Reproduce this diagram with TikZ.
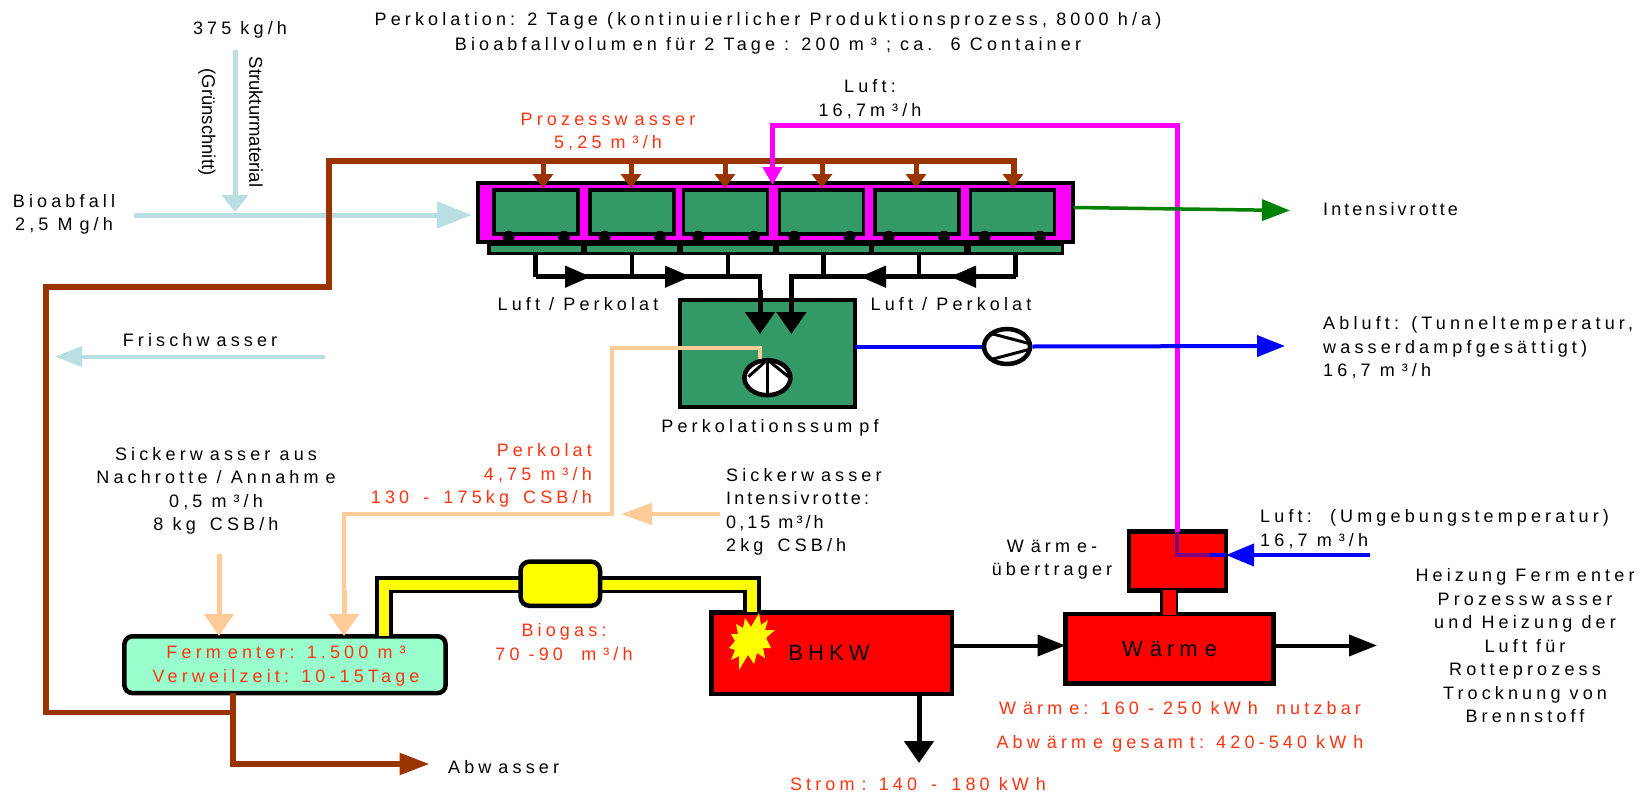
\documentclass[tikz,border=0pt]{standalone}
\usepackage{fontspec}
\usetikzlibrary{arrows.meta,calc,shapes.geometric}
\setmainfont[LetterSpace=23]{Liberation Sans}
\newfontfamily\plainfont{Liberation Sans}
\newfontfamily\tightfont[LetterSpace=17]{Liberation Sans}
\newcommand{\mk}{\kern7pt}
\newcommand{\wsp}{\kern5pt\ }
\definecolor{lblue}{HTML}{B9DFE3}
\definecolor{bro}{HTML}{993300}
\definecolor{mag}{HTML}{FF00FF}
\definecolor{grn}{HTML}{339966}
\definecolor{peach}{HTML}{FFCC99}
\definecolor{mint}{HTML}{99FFCC}
\definecolor{redtxt}{HTML}{FF3311}
\definecolor{purp}{HTML}{800080}
\definecolor{dgreen}{HTML}{008000}
\definecolor{yel}{HTML}{FFFF00}
\definecolor{rd}{HTML}{FF0000}
\tikzset{
 lbl/.style={inner sep=0pt,font=\fontsize{18}{23.5}\selectfont,align=center},
 lblL/.style={lbl,align=left,anchor=west},
 lblR/.style={lbl,align=right,anchor=east},
 rlbl/.style={lbl,text=redtxt},
 boxnode/.style={draw=black,line width=4.5pt,inner sep=0pt,outer sep=0pt,rectangle},
 car/.style={boxnode,line width=3.5pt,fill=grn,minimum width=84pt,minimum height=43.9pt},
 strip/.style={boxnode,line width=3.5pt,fill=grn,minimum height=9.2pt,minimum width=93.5pt},
 wheel/.style={circle,fill=black,minimum size=12pt,inner sep=0pt},
 pumpnode/.style={ellipse,draw=black,fill=white,line width=4.5pt,minimum width=46pt,minimum height=35pt,inner sep=0pt},
 tipS/.style={-{Triangle[length=28pt,width=21pt]}},
 tipB/.style={-{Triangle[length=22pt,width=29pt]}},
 tipL/.style={-{Triangle[length=35pt,width=26pt]}},
 tipV/.style={-{Triangle[length=17pt,width=26pt]}},
 tipBr/.style={-{Triangle[length=14pt,width=20pt]}},
 pipebro/.style={bro,line width=5.5pt,miter limit=10},
}
\begin{document}
\begin{tikzpicture}[x=1pt,y=-1pt]
\useasboundingbox (0,0) rectangle (1649,795);
% ---- nodes
\node[strip] (s1) at (535.5,248.7) {};
\node[strip] (s2) at (632,248.7) {};
\node[strip] (s3) at (728,248.7) {};
\node[strip] (s4) at (823.5,248.7) {};
\node[strip] (s5) at (919,248.7) {};
\node[strip] (s6) at (1015.5,248.7) {};
\node[boxnode,line width=4pt,fill=mag,minimum width=595.5pt,minimum height=59pt] (tunnel) at (775.7,212.5) {};
\foreach \n/\x in {c1/536,c2/632,c3/725.5,c4/821.5,c5/917,c6/1012.5}
  \node[car] (\n) at (\x,212) {};
\foreach \n/\x in {w1/508.6,w2/564,w3/604.6,w4/660,w5/698.4,w6/754,w7/794.4,w8/849.5,w9/888.7,w10/944,w11/984.6,w12/1040}
  \node[wheel] (\n) at (\x,236.7) {};
\node[boxnode,line width=4pt,fill=grn,minimum width=175.7pt,minimum height=107pt] (sump) at (767.6,353.5) {};
\node[boxnode,fill=mint,rounded corners=8pt,minimum width=321.2pt,minimum height=56.8pt] (ferm) at (285,664.7) {};
\node[boxnode,fill=rd,minimum width=240.5pt,minimum height=81.5pt] (bhkw) at (831.5,653) {};
\node[boxnode,fill=rd,minimum width=208pt,minimum height=69.5pt] (waerme) at (1169.5,648.7) {};
\node[boxnode,fill=rd,minimum width=97pt,minimum height=58.9pt] (wt) at (1177.5,561) {};
% ---- coordinates
\coordinate (brA) at (233,712.7);
\coordinate (brB) at (46,712.7);
\coordinate (brC) at (46,287);
\coordinate (brD) at (329,287);
\coordinate (brE) at (329,161);
\coordinate (brF) at (1014,161);
\coordinate (brG) at (233,764);
\coordinate (brH) at (429.5,764);
\coordinate (magA) at (1177,125.7);
\coordinate (magB) at (772.5,125.7);
\coordinate (magC) at (772.5,185);
\coordinate (magD) at (1177,555);
\coordinate (magE) at (1210,555);
\coordinate (luIn) at (1370,555);
\coordinate (bioS) at (134,215);
\coordinate (bioE) at (472,215);
\coordinate (strS) at (235,50);
\coordinate (strE) at (235,212);
\coordinate (friS) at (325,356.5);
\coordinate (friE) at (55,356.5);
\coordinate (intE) at (1290,210.5);
\coordinate (abE) at (1285,346);
\coordinate (perA) at (760,348);
\coordinate (perB) at (612,348);
\coordinate (perC) at (612,514);
\coordinate (perD) at (344,514);
\coordinate (perE) at (344,636);
\coordinate (sicS) at (219,554);
\coordinate (sicE) at (219,636);
\coordinate (intS) at (720,514);
\coordinate (intT) at (621,514);
\coordinate (gasA) at (384,584.5);
\coordinate (gasB) at (752,584.5);
% ---- solid flows
\draw[lblue,line width=5pt,tipL] (bioS) -- (bioE);
\draw[lblue,line width=5pt,tipV] (strS) -- (strE);
\draw[lblue,line width=4pt,-{Triangle[length=27pt,width=20pt]}] (friS) -- (friE);
% brown
\draw[pipebro] (brH) ++(-20,0) -- (brG) -- (ferm.south -| brG);
\draw[pipebro,-{Triangle[length=30pt,width=21pt]}] (brG) -- (brH);
\draw[pipebro] (brA) -- (brB) -- (brC) -- (brD) -- (brE) -- (brF) -- (1014,175);
\foreach \x in {543,631,725,822,916,1013}
  \draw[bro,line width=5pt,tipBr] (\x,161) -- (\x,188);
% magenta
\draw[mag,line width=5pt,-{Triangle[length=18pt,width=19pt]}] (wt.north -| magA) -- (magA) -- (magB) -- (magC);
\draw[purp,line width=4.5pt] (wt.north -| magA) -- (magD) -- (magE);
\draw[blue,line width=4pt,-{Triangle[length=28pt,width=22pt]}] (luIn) -- (wt.east |- luIn) ;
\draw[blue,line width=4pt] (wt.east |- luIn) -- (magE);
% green out
\draw[dgreen,line width=3.5pt,tipS] (tunnel.east |- 0,207.5) -- (intE);
% black bus
\foreach \n in {1,2,3} \draw[line width=4.5pt] (s\n.south) -- (s\n.south |- 0,276.7);
\foreach \n in {4,5,6} \draw[line width=4.5pt] (s\n.south) -- (s\n.south |- 0,276.7);
\draw[line width=4.5pt,miter limit=10] (s1.south |- 0,276.7) -- (760,276.7) -- (760,300);
\draw[line width=4.5pt,miter limit=10] (s6.south |- 0,276.7) -- (791.4,276.7) -- (791.4,300);
\draw[line width=5pt,-{Triangle[length=22pt,width=29pt]}] (760,290) -- (760,334);
\draw[line width=5pt,-{Triangle[length=22pt,width=29pt]}] (791.4,290) -- (791.4,334);
\foreach \a/\b in {555/591,656/691} \draw[line width=4.5pt,-{Triangle[length=26pt,width=21pt]}] (\a,276.7) -- (\b,276.7);
\foreach \a/\b in {895/860,985/950} \draw[line width=4.5pt,-{Triangle[length=26pt,width=21pt]}] (\a,276.7) -- (\b,276.7);
% blue with pump
\node[pumpnode] (pumpB) at (1007,346.5) {};
\draw[blue,line width=4pt] (sump.east |- pumpB) -- (pumpB.west);
\draw[blue,line width=4pt,tipS] (pumpB.east) -- (abE);
\draw[line width=3pt] ($(pumpB)+(-16,-13)$) -- ($(pumpB)+(22,-3)$);
\draw[line width=3pt] ($(pumpB)+(-16,13)$) -- ($(pumpB)+(22,3)$);
% inner pump
\node[pumpnode] (pumpS) at (767.4,377.7) {};
\draw[line width=3pt] ($(pumpS)+(-19,-1)$) -- ($(pumpS)+(0,-18)$) -- ($(pumpS)+(21,-1)$);
\draw[line width=3pt] ($(pumpS)+(0,-18)$) -- ($(pumpS)+(0,18)$);
% peach
\draw[peach,line width=4.5pt,miter limit=10] (760,359) -- (perA) -- (perB) -- (perC) -- (perD) -- (344,600);
\draw[peach,line width=5pt,-{Triangle[length=22pt,width=29pt]}] (344,590) -- (perE);
\draw[peach,line width=5pt,-{Triangle[length=22pt,width=29pt]}] (sicS) -- (sicE);
\draw[peach,line width=4.5pt,-{Triangle[length=31pt,width=21pt]}] (intS) -- (intT);
% biogas
\draw[line width=17.5pt,miter limit=10] (gasA |- ferm.north) -- (gasA) -- (gasB) -- (gasB |- bhkw.north);
\draw[yel,line width=10pt,miter limit=10] (gasA |- ferm.north) -- (gasA) -- (gasB) -- (gasB |- bhkw.north);
\node[boxnode,fill=yel,rounded corners=9pt,minimum width=79.5pt,minimum height=44.2pt] (tank) at (560.3,583.7) {};
% connector
\node[draw=black,fill=rd,line width=3.5pt,minimum width=15pt,minimum height=22pt,inner sep=0pt,outer sep=0pt] (link) at (1169,602) {};
\fill[rd] (1163,590) rectangle (1176,615);
% star
\fill[yel] (759,613)--(761,625)--(768,620)--(765,630)--(775,630)--(766,638)--(771,648)--(763,648)--(765,658)--(757,653)--(754,664)--(748,655)--(739,670)--(739,656)--(731,660)--(735,650)--(729,648)--(735,641)--(731,634)--(738,634)--(736,624)--(743,628)--(745,618)--(751,627)--cycle;
% heat and power
\coordinate (bw) at (0,645.5);
\draw[line width=4pt,tipS] (bhkw.east |- bw) -- (waerme.west |- bw);
\draw[line width=4pt,tipS] (waerme.east |- bw) -- (1377,645.5);
\draw[line width=5pt,tipB] (919,694) -- (919,763);
% ---- text
\node[lbl,font=\fontsize{18}{25.5}\selectfont] (t1) at (768,33.5) {Perkolation: 2 Tage (kontinuierlicher Produktionsprozess, 8000 h/a)\\Bioabfallvolum\mk en für 2 Tage : 200 m\mk ³ ; ca.\ \ 6 Container};
\node[lbl] (t2) at (240,30) {375 kg/h};
\node[inner sep=0pt,rotate=-90,font=\plainfont\fontsize{18.5}{20}\selectfont] (t3) at (256,122) {Strukturmaterial};
\node[inner sep=0pt,rotate=-90,font=\plainfont\fontsize{18.5}{20}\selectfont] (t4) at (207,122) {(Grünschnitt)};
\node[lbl] (t5) at (64,214.5) {Bioabfall\\2,5 M\mk g/h};
\node[rlbl] (t6) at (608,132) {Prozessw\mk asser\\5,25 m\mk ³/h};
\node[lbl] (t7) at (870,99) {Luft:\\16,7m\mk ³/h};
\node[lblL,font=\tightfont\fontsize{18}{23.5}\selectfont] (t8) at (1323,209.5) {Intensivrotte};
\node[lbl] (t9) at (578,304.5) {Luft / Perkolat};
\node[lbl] (t10) at (951,304.5) {Luft / Perkolat};
\node[lbl] (t11) at (770,427.5) {Perkolationssum\mk pf};
\node[lbl] (t12) at (200,340) {Frischw\mk asser};
\node[lblL] (t13) at (1323,348) {Abluft: (Tunneltemperatur,\\wasserdampfgesättigt)\\16,7 m\mk ³/h};
\node[lbl] (t14) at (216,491) {Sickerw\mk asser aus\\Nachrotte / Annahm\mk e\\0,5 m\mk ³/h\\8 kg\wsp CSB/h};
\node[lblR,text=redtxt] (t15) at (592,475.5) {Perkolat\\4,75 m\mk ³/h\\130\wsp -\wsp 175kg\wsp CSB/h};
\node[lblL] (t16) at (726,512) {Sickerw\mk asser\\{\tightfont Intensivrotte:}\\{\tightfont 0,15 m³/h}\\2kg\wsp CSB/h};
\node[lbl] (t17) at (1052,559.5) {W\mk ärm\mk e-\\übertrager};
\node[lblL] (t18) at (1260,529) {Luft:\ \ (Umgebungstemperatur)\\16,7 m\mk ³/h};
\node[lbl] (t19) at (1525,646) {Heizung Ferm\mk enter\\Prozessw\mk asser\\und Heizung der\\Luft für\\Rotteprozess\\Trocknung von\\Brennstoff};
\node[lbl,font=\fontsize{22}{24}\selectfont] (t20) at (waerme) {W\mk ärm\mk e};
\node[lbl,font=\fontsize{22}{24}\selectfont] (t21) at (829,653) {BHKW};
\node[rlbl] (t22) at (1180,708.5) {W\mk ärm\mk e: 160 - 250 kW\mk h\ \ nutzbar};
\node[rlbl] (t23) at (1180,743.5) {Abw\mk ärm\mk e gesam\mk t: 420-540 kW\mk h};
\node[rlbl] (t24) at (918,784) {Strom\mk : 140\wsp -\wsp 180 kW\mk h};
\node[rlbl] (t25) at (564,642) {Biogas:\\70 -90\ \ m\mk ³/h};
\node[rlbl] (t26) at (286,666) {Ferm\mk enter: 1.500 m\mk ³\\Verweilzeit: 10-15Tage};
\node[lblL] (t27) at (448,767.5) {Abw\mk asser};
\end{tikzpicture}
\end{document}
